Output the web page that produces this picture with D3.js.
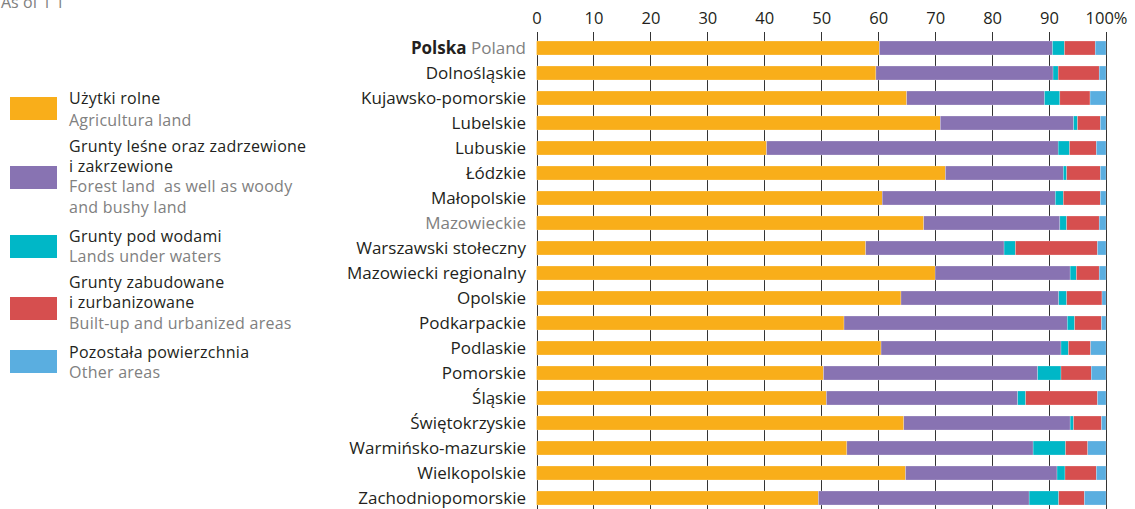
<!DOCTYPE html>
<html>
<head>
<meta charset="utf-8">
<script src="https://cdn.jsdelivr.net/npm/d3@7"></script>
<style>
  html, body { margin: 0; padding: 0; background: #fff; }
  svg { display: block; font-family: "Open Sans", "Noto Sans", sans-serif; }
  text { white-space: pre; }
</style>
</head>
<body>
<svg id="chart" width="1135" height="509"></svg>
<script>
// Land use structure by voivodeship (% of total area)
const categories = [
  "Polska", "Dolnośląskie", "Kujawsko-pomorskie", "Lubelskie", "Lubuskie",
  "Łódzkie", "Małopolskie", "Mazowieckie", "Warszawski stołeczny",
  "Mazowiecki regionalny", "Opolskie", "Podkarpackie", "Podlaskie",
  "Pomorskie", "Śląskie", "Świętokrzyskie", "Warmińsko-mazurskie",
  "Wielkopolskie", "Zachodniopomorskie"
];
const agricultural = [60.2, 59.6, 65.0, 70.9, 40.4, 71.8, 60.7, 68.0, 57.8, 70.0, 64.0, 54.0, 60.5, 50.4, 50.9, 64.5, 54.5, 64.8, 49.5];
const forest       = [30.4, 31.1, 24.2, 23.4, 51.2, 20.7, 30.4, 23.9, 24.3, 23.7, 27.7, 39.2, 31.6, 37.6, 33.6, 29.2, 32.7, 26.6, 37.0];
const water        = [ 2.1,  0.9,  2.7,  0.7,  2.0,  0.6,  1.4,  1.2,  2.0,  1.1,  1.4,  1.3,  1.3,  4.1,  1.4,  0.6,  5.7,  1.4,  5.2];
const builtUp      = [ 5.4,  7.2,  5.3,  4.0,  4.7,  5.9,  6.5,  5.7, 14.4,  4.0,  6.2,  4.7,  3.9,  5.3, 12.6,  4.9,  3.9,  5.5,  4.5];
const other        = [ 1.9,  1.2,  2.8,  1.0,  1.7,  1.0,  1.0,  1.2,  1.5,  1.2,  0.7,  0.8,  2.7,  2.6,  1.5,  0.8,  3.2,  1.7,  3.8];
const tickValues   = [0, 10, 20, 30, 40, 50, 60, 70, 80, 90, 100];

const seriesKeys = ["agricultural", "forest", "water", "builtUp", "other"];
const seriesColors = ["#f9ae1a", "#8873b2", "#00b7c7", "#d64f4f", "#5aaee0"];
const legendItems = [
  { pl: ["Użytki rolne"], en: ["Agricultura land"] },
  { pl: ["Grunty leśne oraz zadrzewione", "i zakrzewione"], en: ["Forest land  as well as woody", "and bushy land"] },
  { pl: ["Grunty pod wodami"], en: ["Lands under waters"] },
  { pl: ["Grunty zabudowane", "i zurbanizowane"], en: ["Built-up and urbanized areas"] },
  { pl: ["Pozostała powierzchnia"], en: ["Other areas"] }
];

const rows = categories.map((c, i) => ({
  name: c,
  agricultural: agricultural[i],
  forest: forest[i],
  water: water[i],
  builtUp: builtUp[i],
  other: other[i]
}));

const svg = d3.select("#chart");
const dark = "#231f20", grey = "#808080";

const x = d3.scaleLinear().domain([0, 100]).range([536.5, 1106]);
const y = d3.scaleBand().domain(categories).range([35.5, 510.5])
  .paddingInner(0.44).paddingOuter(0.22);
const color = d3.scaleOrdinal().domain(seriesKeys).range(seriesColors);

// Top note (partly outside the view)
svg.append("text").attr("x", 1).attr("y", 8)
  .attr("fill", grey).attr("font-size", 16).text("As of 1 1");

// Tick labels on top
const axisTop = d3.axisTop(x).tickValues(tickValues)
  .tickSize(0).tickFormat(d => d === 100 ? "100%" : d);
const gAxis = svg.append("g").attr("transform", "translate(0,24)").call(axisTop);
gAxis.select(".domain").remove();
gAxis.selectAll("text").attr("font-size", 16.5).attr("fill", dark)
  .attr("font-family", "Open Sans").attr("dy", 0).attr("y", 0);

// Vertical gridlines running from the tick marks to the bottom
svg.append("g").selectAll("line").data(tickValues).join("line")
  .attr("x1", d => Math.round(x(d)) + 0.5).attr("x2", d => Math.round(x(d)) + 0.5)
  .attr("y1", 32).attr("y2", 509)
  .attr("stroke", "#333").attr("stroke-width", 1);

// Stacked bars
const stacked = d3.stack().keys(seriesKeys)(rows);
svg.append("g").selectAll("g").data(stacked).join("g")
  .attr("fill", d => color(d.key))
  .selectAll("rect").data(d => d).join("rect")
  .attr("x", d => x(d[0]))
  .attr("width", d => x(d[1]) - x(d[0]))
  .attr("y", d => y(d.data.name))
  .attr("height", y.bandwidth())
  .attr("stroke", "#fff").attr("stroke-width", 0.4).attr("stroke-opacity", 0.6);

// Category labels
const labels = svg.append("g").selectAll("text").data(categories).join("text")
  .attr("x", 526).attr("y", d => y(d) + y.bandwidth() / 2)
  .attr("dy", "0.36em").attr("text-anchor", "end")
  .attr("font-size", 17)
  .attr("fill", d => d === "Mazowieckie" ? grey : dark);
labels.each(function (d) {
  const t = d3.select(this);
  if (d === "Polska") {
    t.append("tspan").attr("font-weight", "bold").attr("fill", dark).text("Polska");
    t.append("tspan").attr("fill", grey).text(" Poland");
  } else {
    t.text(d);
  }
});

// Legend
const legendLayout = [
  { swatch: 97, lines: [104, 126] },
  { swatch: 166, lines: [152, 172, 192, 213] },
  { swatch: 235, lines: [242, 262] },
  { swatch: 297, lines: [288, 308, 329] },
  { swatch: 350, lines: [358, 378] }
];
const legend = svg.append("g");
legendItems.forEach((item, i) => {
  const L = legendLayout[i];
  legend.append("rect").attr("x", 10).attr("y", L.swatch)
    .attr("width", 47).attr("height", 23).attr("fill", seriesColors[i]);
  const texts = item.pl.map(t => ({ t, c: dark })).concat(item.en.map(t => ({ t, c: grey })));
  texts.forEach((tt, j) => {
    legend.append("text").attr("x", 69).attr("y", L.lines[j])
      .attr("font-size", 16).attr("letter-spacing", 0.25)
      .attr("fill", tt.c).text(tt.t);
  });
});
</script>
</body>
</html>
